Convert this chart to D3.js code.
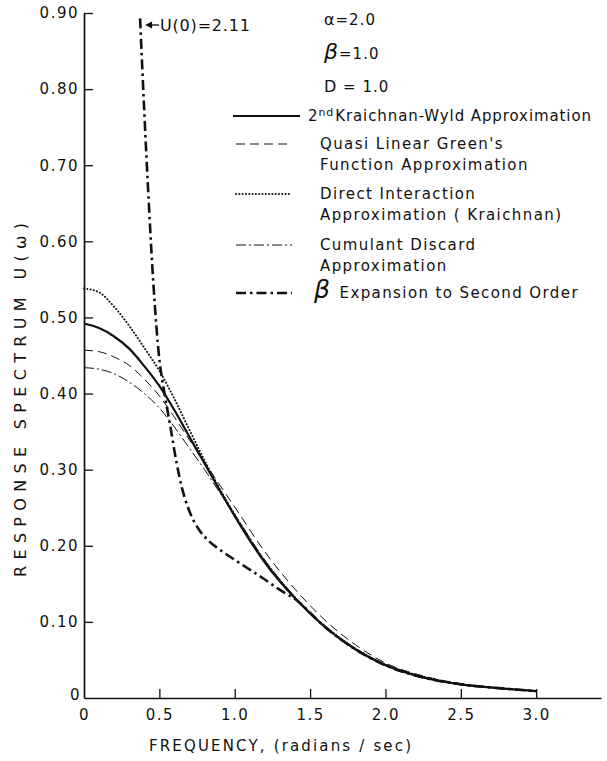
<!DOCTYPE html>
<html>
<head>
<meta charset="utf-8">
<script src="https://cdn.jsdelivr.net/npm/d3@7"></script>
<style>
  body { margin: 0; background: #fff; }
  svg { display: block; }
  text { font-family: "DejaVu Sans", sans-serif; fill: #111; }
</style>
</head>
<body>
<svg id="chart" width="607" height="761"></svg>
<script>
// Axis ticks
const xTicks = [0, 0.5, 1.0, 1.5, 2.0, 2.5, 3.0];
const xTickLabels = ["0", "0.5", "1.0", "1.5", "2.0", "2.5", "3.0"];
const yTicks = [0, 0.1, 0.2, 0.3, 0.4, 0.5, 0.6, 0.7, 0.8, 0.9];
const yTickLabels = ["0", "0.10", "0.20", "0.30", "0.40", "0.50", "0.60", "0.70", "0.80", "0.90"];

// Frequency grid (radians/sec) shared by the four approximations
const omega = [0, 0.1, 0.2, 0.3, 0.4, 0.5, 0.6, 0.7, 0.8, 0.9, 1.0, 1.2, 1.4, 1.6, 1.8, 2.0, 2.25, 2.5, 2.75, 3.0];

// Response spectrum U(w) for each approximation
const kraichnanWyld     = [0.492, 0.486, 0.475, 0.459, 0.436, 0.410, 0.378, 0.343, 0.308, 0.273, 0.239, 0.178, 0.131, 0.093, 0.064, 0.043, 0.027, 0.018, 0.013, 0.009];
const quasiLinear       = [0.457, 0.455, 0.448, 0.437, 0.419, 0.397, 0.369, 0.339, 0.310, 0.280, 0.251, 0.192, 0.143, 0.102, 0.070, 0.046, 0.029, 0.019, 0.013, 0.009];
const directInteraction = [0.538, 0.533, 0.514, 0.489, 0.460, 0.430, 0.393, 0.352, 0.312, 0.275, 0.241, 0.180, 0.132, 0.094, 0.065, 0.044, 0.028, 0.018, 0.013, 0.009];
const cumulantDiscard   = [0.434, 0.432, 0.426, 0.415, 0.400, 0.381, 0.356, 0.328, 0.300, 0.270, 0.241, 0.181, 0.133, 0.095, 0.065, 0.044, 0.028, 0.018, 0.013, 0.009];

// Beta expansion to second order (U(0) = 2.11, leaves the frame at the top)
const betaOmega     = [0.372, 0.40, 0.43, 0.46, 0.50, 0.53, 0.57, 0.615, 0.65, 0.70, 0.76, 0.83, 0.90, 1.035, 1.19, 1.30, 1.40, 1.6, 1.8, 2.0, 2.25, 2.5, 2.75, 3.0];
const betaExpansion = [0.893, 0.77, 0.65, 0.545, 0.445, 0.405, 0.360, 0.308, 0.276, 0.245, 0.222, 0.206, 0.195, 0.177, 0.157, 0.142, 0.130, 0.093, 0.064, 0.043, 0.027, 0.018, 0.013, 0.009];

const seriesNames = [
  ["2nd Kraichnan-Wyld Approximation"],
  ["Quasi Linear Green's", "Function Approximation"],
  ["Direct Interaction", "Approximation ( Kraichnan)"],
  ["Cumulant Discard", "Approximation"],
  ["β Expansion to Second Order"]
];
const paramLabels = [["α", "=2.0"], ["β", "=1.0"], ["D", " = 1.0"]];
const peakNote = "U(0)=2.11";

const styles = [
  { width: 2.2, dash: null, cap: "butt" },
  { width: 1.0, dash: "9,5", cap: "butt" },
  { width: 2.0, dash: "0.1,3.2", cap: "round" },
  { width: 1.0, dash: "10,3,2,3", cap: "butt" },
  { width: 2.6, dash: "10,4,2.5,4", cap: "butt" }
];

const svg = d3.select("#chart");

const x = d3.scaleLinear().domain([0, 3.43]).range([84, 601]);
const y = d3.scaleLinear().domain([0, 0.9]).range([698, 13]);

// Axes with inward ticks
const gx = svg.append("g").attr("transform", `translate(0,${y(0)})`)
  .call(d3.axisBottom(x).tickValues(xTicks).tickSize(-9).tickSizeOuter(0)
        .tickFormat((d, i) => xTickLabels[i]).tickPadding(8));
const gy = svg.append("g").attr("transform", `translate(${x(0)},0)`)
  .call(d3.axisLeft(y).tickValues(yTicks).tickSize(-9).tickSizeOuter(0)
        .tickFormat((d, i) => yTickLabels[i]).tickPadding(5));

[gx, gy].forEach(g => {
  g.select(".domain").attr("stroke", "#111").attr("stroke-width", 1.7);
  g.selectAll(".tick line").attr("stroke", "#111").attr("stroke-width", 1.3);
  g.selectAll(".tick text").style("font-size", "15px").style("letter-spacing", "1.5px")
    .style("font-family", "'DejaVu Sans', sans-serif").attr("fill", "#111");
});
gy.selectAll(".tick").filter(d => d === 0).select("line").remove();
gx.selectAll(".tick").filter(d => d === 0).select("line").remove();
gy.selectAll(".tick").filter(d => d === 0).select("text").attr("dx", 2).attr("dy", "0.1em");
gx.selectAll(".tick text").attr("dy", "0.9em");

// Axis titles
svg.append("text")
  .attr("transform", `translate(26,${400}) rotate(-90)`)
  .attr("text-anchor", "middle")
  .attr("textLength", 354).attr("lengthAdjust", "spacing")
  .style("font-size", "16px")
  .text("RESPONSE SPECTRUM U(ω)");
svg.append("text")
  .attr("x", 280).attr("y", 751)
  .attr("text-anchor", "middle")
  .attr("textLength", 262).attr("lengthAdjust", "spacing")
  .style("font-size", "15px")
  .text("FREQUENCY, (radians / sec)");

// Curves
const line = d3.line().x(d => x(d[0])).y(d => y(d[1])).curve(d3.curveMonotoneX);
const curveData = [
  d3.zip(omega, kraichnanWyld),
  d3.zip(omega, quasiLinear),
  d3.zip(omega, directInteraction),
  d3.zip(omega, cumulantDiscard),
  d3.zip(betaOmega, betaExpansion)
];
curveData.forEach((pts, i) => {
  const s = styles[i];
  svg.append("path").datum(pts)
    .attr("d", line)
    .attr("fill", "none")
    .attr("stroke", "#111")
    .attr("stroke-width", s.width)
    .attr("stroke-linecap", s.cap)
    .attr("stroke-dasharray", s.dash);
});

// Note for the off-scale peak of the beta expansion
const peakX = x(betaOmega[0]) + 5;
const peakY = 25;
svg.append("line").attr("x1", peakX + 3).attr("y1", peakY).attr("x2", peakX + 14).attr("y2", peakY)
  .attr("stroke", "#111").attr("stroke-width", 1.3);
svg.append("path")
  .attr("d", `M${peakX},${peakY} l7,-3.5 l0,7 z`)
  .attr("fill", "#111");
svg.append("text").attr("x", peakX + 15).attr("y", peakY + 6)
  .style("font-size", "16px").style("letter-spacing", "0.8px")
  .text(peakNote);

// Parameter block
const paramY = [25, 59, 92];
paramLabels.forEach((p, i) => {
  const t = svg.append("text").attr("x", 324).attr("y", paramY[i])
    .style("font-size", "15px").style("letter-spacing", "1px");
  const big = p[0] === "β";
  t.append("tspan").text(p[0])
    .style("font-size", big ? "22px" : "16px")
    .style("font-style", big ? "italic" : "normal");
  t.append("tspan").text(p[1]);
});

// Legend
const legendY = [116, 144, 194, 245, 293];
const lineX1 = [233, 236, 236, 236, 236];
const lineX2 = [300, 292, 292, 292, 292];
const textX = [308, 320, 320, 320, 314];
seriesNames.forEach((lines, i) => {
  const s = styles[i];
  svg.append("line")
    .attr("x1", lineX1[i]).attr("x2", lineX2[i])
    .attr("y1", legendY[i]).attr("y2", legendY[i])
    .attr("stroke", "#111")
    .attr("stroke-width", s.width)
    .attr("stroke-linecap", s.cap)
    .attr("stroke-dasharray", s.dash);
  lines.forEach((txt, j) => {
    const t = svg.append("text")
      .attr("x", textX[i])
      .attr("y", legendY[i] + 5 + j * 21)
      .style("font-size", "15px")
      .style("letter-spacing", i === 0 ? "0.9px" : "1.4px");
    if (i === 0 && j === 0) {
      t.append("tspan").text("2");
      t.append("tspan").text("nd").style("font-size", "11px").attr("dy", -5);
      t.append("tspan").text(txt.slice(4)).attr("dy", 5).attr("dx", 1);
    } else if (i === 4) {
      t.append("tspan").text("β").style("font-size", "25px").style("font-style", "italic");
      t.append("tspan").text(txt.slice(1)).attr("dx", 2);
    } else {
      t.text(txt);
    }
  });
});
</script>
</body>
</html>
